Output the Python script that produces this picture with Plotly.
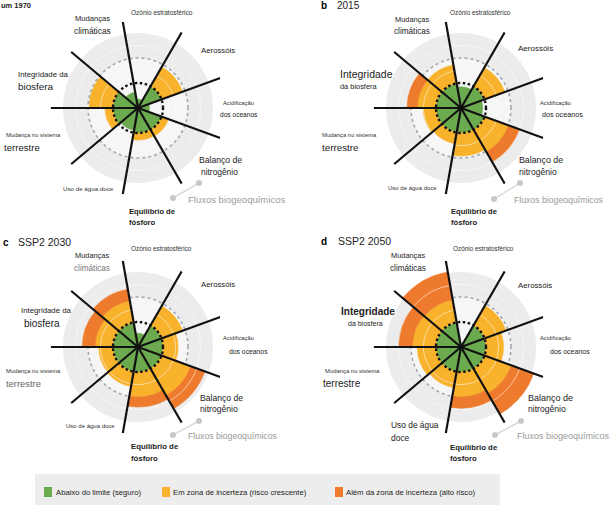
import numpy as np
import plotly.graph_objects as go

W, H = 610, 506

# ---------------- DATA ----------------
fronteiras = ["Mudanças climáticas", "Ozônio estratosférico", "Aerossóis",
              "Acidificação dos oceanos", "Balanço de nitrogênio", "Equilíbrio de fósforo",
              "Uso de água doce", "Mudança no sistema terrestre", "Integridade da biosfera"]
angulos = [120, 80, 40, 0, -40, -80, -120, -160, 160]   # centre of each 40° sector
separadores = [180, 140, 100, 60, 20, -20, -60, -100, -140]
largura_setor = 40
limite = 1.0           # planetary boundary (normalised)
anel_referencia = 2.0  # grey dashed ring
anel_externo = 3.0

valores_1970 = [0.65, 0.35, 1.90, 0.46, 1.30, 1.28, 0.90, 1.32, 1.96]
valores_2015 = [1.75, 0.85, 1.87, 0.87, 2.50, 1.92, 1.45, 1.52, 2.16]
valores_2030 = [2.35, 0.55, 1.90, 1.60, 2.85, 2.40, 1.60, 1.57, 2.23]
valores_2050 = [3.05, 0.15, 1.92, 1.70, 3.10, 2.45, 1.65, 1.75, 2.50]

# start of the high-risk zone (None = not reached)
alto_risco_1970 = [None, None, None, None, None, None, None, None, None]
alto_risco_2015 = [None, None, None, None, 2.03, None, None, None, 1.75]
alto_risco_2030 = [1.88, None, None, None, 2.25, 2.00, None, None, 1.72]
alto_risco_2050 = [1.92, None, None, None, 2.15, 2.00, None, None, 1.95]

legenda = ["Abaixo do limite (seguro)", "Em zona de incerteza (risco crescente)",
           "Além da zona de incerteza (alto risco)"]

VERDE, AMARELO, LARANJA = "#6caa50", "#f8b22c", "#ee7b2d"
FONT = "Liberation Sans"

# ---------------- LAYOUT ----------------
R_PX = 87.5
centros = [(138, 108), (461, 108), (138, 347), (461, 347)]
paineis = [(valores_1970, alto_risco_1970), (valores_2015, alto_risco_2015),
           (valores_2030, alto_risco_2030), (valores_2050, alto_risco_2050)]

fig = go.Figure()
circ = np.linspace(0, 360, 361)

layout_polars = {}
for i, ((cx, cy), (vals, alto)) in enumerate(zip(centros, paineis)):
    dom = dict(x=[(cx - R_PX) / W, (cx + R_PX) / W],
               y=[1 - (cy + R_PX) / H, 1 - (cy - R_PX) / H])
    base_name = "polar" if i == 0 else f"polar{2 * i + 1}"
    top_name = f"polar{2 * i + 2}"
    for nm in (base_name, top_name):
        layout_polars[nm] = dict(
            domain=dom, bgcolor="rgba(0,0,0,0)",
            radialaxis=dict(visible=False, range=[0, 3.5], showgrid=False),
            angularaxis=dict(visible=False, direction="counterclockwise", rotation=0,
                             showgrid=False))
    sp_base = base_name
    sp_top = top_name

    # background (bottom subplot)
    fig.add_trace(go.Scatterpolar(r=[anel_externo] * len(circ), theta=circ, mode="lines",
                                  fill="toself", fillcolor="#ececec", line=dict(width=0),
                                  subplot=sp_base, hoverinfo="skip"))
    fig.add_trace(go.Scatterpolar(r=[anel_referencia] * len(circ), theta=circ, mode="lines",
                                  fill="toself", fillcolor="#f6f6f6", line=dict(width=0),
                                  subplot=sp_base, hoverinfo="skip"))
    fig.add_trace(go.Scatterpolar(r=[anel_referencia] * len(circ), theta=circ, mode="lines",
                                  line=dict(color="#9ea8b3", width=1.6, dash="3px,3px"),
                                  subplot=sp_base, hoverinfo="skip"))

    # wedges (top subplot)
    verde = [min(v, limite) for v in vals]
    amarelo = [max(0.0, min(v, a if a is not None else v) - limite) for v, a in zip(vals, alto)]
    lar_base = [a if a is not None else v for v, a in zip(vals, alto)]
    laranja = [max(0.0, v - b) for v, b in zip(vals, lar_base)]
    for rr, bb, col in [(verde, [0] * 9, VERDE), (amarelo, [limite] * 9, AMARELO),
                        (laranja, lar_base, LARANJA)]:
        fig.add_trace(go.Barpolar(r=rr, base=bb, theta=angulos, width=[largura_setor] * 9,
                                  marker=dict(color=col, line=dict(color=col, width=0.6)),
                                  subplot=sp_top, hoverinfo="skip"))
    # white rings over wedges
    for rv in (1.5, 2.5):
        fig.add_trace(go.Scatterpolar(r=[rv] * len(circ), theta=circ, mode="lines",
                                      line=dict(color="rgba(255,255,255,0.6)", width=1),
                                      subplot=sp_top, hoverinfo="skip"))
    # boundary dotted ring
    fig.add_trace(go.Scatterpolar(r=[limite] * len(circ), theta=circ, mode="lines",
                                  line=dict(color="#111111", width=2.4, dash="2.5px,2.5px"),
                                  subplot=sp_top, hoverinfo="skip"))
    # separator lines
    rl, tl = [], []
    for a in separadores:
        rl += [0, 3.5, None]
        tl += [a, a, None]
    fig.add_trace(go.Scatterpolar(r=rl, theta=tl, mode="lines", connectgaps=False,
                                  line=dict(color="#111111", width=2.2),
                                  subplot=sp_top, hoverinfo="skip"))

# ---------------- TEXT ----------------
D, G, L = "#222222", "#9a9a9a", "#333333"
labels = [
    # panel a
    ("<b>um 1970</b>", 0, 5, 7.5, D, "left"),
    ("Ozônio estratosférico", 162, 13, 6.5, L, "center"),
    ("Mudanças", 92, 18, 7.6, D, "center"), ("climáticas", 92, 31, 8.4, D, "center"),
    ("Aerossóis", 218, 51, 7.8, D, "center"),
    ("Integridade da", 17, 74, 7.8, D, "left"), ("biosfera", 17, 86, 9.8, D, "left"),
    ("Acidificação", 238, 103, 5.8, L, "center"), ("dos oceanos", 239, 114, 6.6, D, "center"),
    ("Mudança no sistema", 5, 135, 5.9, L, "left"), ("terrestre", 3, 147, 9.6, D, "left"),
    ("Balanço de", 198, 160, 8.6, D, "left"), ("nitrogênio", 200, 172, 8.4, D, "left"),
    ("Uso de água doce", 88, 188, 6.2, L, "center"),
    ("<b>Equilíbrio de</b>", 128, 211, 7.6, D, "left"), ("<b>fósforo</b>", 128, 222, 7.6, D, "left"),
    ("Fluxos biogeoquímicos", 187, 200, 9.5, G, "left"),
    # panel b
    ("<b>b</b>", 320, 5, 10, "#000", "left"), ("2015", 336, 5, 10, D, "left"),
    ("Ozônio estratosférico", 480, 13, 6.4, L, "center"),
    ("Mudanças", 412, 19, 7.4, D, "center"), ("climáticas", 412, 32, 8.2, D, "center"),
    ("Aerossóis", 535, 48, 8, D, "center"),
    ("Integridade", 339, 74, 10.5, D, "left"), ("da biosfera", 339, 86, 7.4, D, "left"),
    ("Acidificação", 555, 103, 5.8, L, "center"), ("dos oceanos", 562, 114, 7.2, D, "center"),
    ("Mudança no sistema", 321, 135, 5.9, L, "left"), ("terrestre", 321, 147, 9.8, D, "left"),
    ("Balanço de", 518, 160, 8.8, D, "left"), ("nitrogênio", 518, 172, 8.6, D, "left"),
    ("Uso de água doce", 412, 188, 6, L, "center"),
    ("<b>Equilíbrio de</b>", 450, 211, 7.6, D, "left"), ("<b>fósforo</b>", 450, 222, 7.6, D, "left"),
    ("Fluxos biogeoquímicos", 513, 200, 8.7, G, "left"),
    # panel c
    ("<b>c</b>", 2, 242, 10, "#000", "left"), ("SSP2 2030", 17, 242, 10.5, D, "left"),
    ("Ozônio estratosférico", 162, 248, 6.4, L, "center"),
    ("Mudanças", 92, 255, 7.4, D, "center"), ("climáticas", 92, 268, 8.2, "#777", "center"),
    ("Aerossóis", 218, 284, 7.8, D, "center"),
    ("Integridade da", 20, 310, 7.8, D, "left"), ("biosfera", 23, 323, 10, D, "left"),
    ("Acidificação", 238, 338, 5.8, L, "center"), ("dos oceanos", 248, 351, 6.8, D, "center"),
    ("Mudança no sistema", 5, 371, 5.9, L, "left"), ("terrestre", 5, 383, 9.4, "#666", "left"),
    ("Balanço de", 199, 398, 8.6, D, "left"), ("nitrogênio", 199, 409, 8.6, D, "left"),
    ("Uso de água doce", 90, 426, 6, L, "center"),
    ("<b>Equilíbrio de</b>", 130, 446, 7.8, D, "left"), ("<b>fósforo</b>", 130, 458, 7.8, D, "left"),
    ("Fluxos biogeoquímicos", 187, 436, 8.7, G, "left"),
    # panel d
    ("<b>d</b>", 320, 241, 10, "#000", "left"), ("SSP2 2050", 337, 241, 10.5, D, "left"),
    ("Ozônio estratosférico", 483, 248, 6.4, L, "center"),
    ("Mudanças", 408, 255, 7.4, D, "center"), ("climáticas", 408, 268, 8.2, D, "center"),
    ("Aerossóis", 535, 285, 7.8, D, "center"),
    ("<b>Integridade</b>", 340, 311, 10, D, "left"), ("da biosfera", 347, 323, 7, D, "left"),
    ("Acidificação", 555, 338, 5.8, L, "center"), ("dos oceanos", 570, 351, 7, D, "center"),
    ("Mudança no sistema", 324, 371, 5.9, L, "left"), ("terrestre", 322, 383, 10, D, "left"),
    ("Balanço de", 527, 398, 9, D, "left"), ("nitrogênio", 527, 409, 8.6, D, "left"),
    ("Uso de água", 390, 425, 8.4, D, "left"), ("doce", 390, 438, 8.4, D, "left"),
    ("<b>Equilíbrio de</b>", 449, 447, 7.8, D, "left"), ("<b>fósforo</b>", 449, 458, 7.8, D, "left"),
    ("Fluxos biogeoquímicos", 516, 436, 9, G, "left"),
]

annotations = []
for txt, x, y, s, c, anc in labels:
    annotations.append(dict(text=txt, x=x / W, y=1 - y / H, xref="paper", yref="paper",
                            showarrow=False, xanchor=anc, yanchor="middle",
                            borderpad=0, font=dict(size=s, color=c, family=FONT)))

shapes = []
# "Fluxos biogeoquimicos" connectors
for (x1, y1, x2, y2) in [(173, 198, 199, 183), (494, 199, 520, 183),
                         (173, 435, 199, 421), (495, 435, 521, 421)]:
    shapes.append(dict(type="line", xref="paper", yref="paper", x0=x1 / W, y0=1 - y1 / H,
                       x1=x2 / W, y1=1 - y2 / H, line=dict(color="#d0d0d0", width=1.2)))
    for (px, py) in [(x1, y1), (x2, y2)]:
        shapes.append(dict(type="circle", xref="paper", yref="paper",
                           x0=(px - 3) / W, x1=(px + 3) / W, y0=1 - (py + 3) / H, y1=1 - (py - 3) / H,
                           fillcolor="#c8c8c8", line=dict(width=0)))

# legend bar
shapes.append(dict(type="rect", xref="paper", yref="paper", x0=35 / W, x1=500 / W,
                   y0=1 - 505 / H, y1=1 - 474 / H, fillcolor="#ededed", line=dict(width=0),
                   layer="below"))
for (sx, col), txt, tx in zip([(44, VERDE), (162, AMARELO), (335, LARANJA)], legenda, [55, 172, 345]):
    shapes.append(dict(type="rect", xref="paper", yref="paper", x0=sx / W, x1=(sx + 8) / W,
                       y0=1 - 497 / H, y1=1 - 487 / H, fillcolor=col, line=dict(width=0)))
    annotations.append(dict(text=txt, x=tx / W, y=1 - 492 / H, xref="paper", yref="paper",
                            showarrow=False, xanchor="left", yanchor="middle", borderpad=0,
                            font=dict(size=7.7, color=D, family=FONT)))

fig.update_layout(width=W, height=H, margin=dict(l=0, r=0, t=0, b=0),
                  paper_bgcolor="white", plot_bgcolor="white", showlegend=False,
                  annotations=annotations, shapes=shapes, **layout_polars)

fig.write_html("out.html", config={"displayModeBar": False},
               post_script="document.body.style.margin='0';document.body.style.overflow='hidden';")
